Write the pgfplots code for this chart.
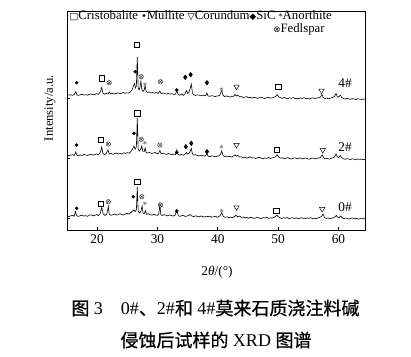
\documentclass[border=0pt]{standalone}
\usepackage{pgfplots}
\pgfplotsset{compat=1.18}
\usepackage{pgfplotstable}
\usetikzlibrary{plotmarks}
\usepackage{fontspec}
\setmainfont{Liberation Serif}
\newfontfamily\cjk{Noto Sans CJK SC}[FakeBold=0.6]
\newfontfamily\sym{DejaVu Sans}

\pgfplotstableread{
x y
15.0 2.3
15.3 1.5
15.6 2.0
15.9 2.7
16.2 1.8
16.4 6.5
16.6 2.2
16.9 1.6
17.2 2.4
17.5 2.9
17.8 1.9
18.1 2.3
18.4 1.7
18.7 2.8
19.0 3.2
19.3 2.2
19.6 2.6
19.9 3.5
20.2 2.5
20.5 4.5
20.75 10.5
21.0 4.0
21.3 2.6
21.6 3.9
21.85 11.5
22.0 3.8
22.3 2.7
22.6 3.3
22.9 4.0
23.2 2.9
23.5 3.4
23.8 4.3
24.1 3.5
24.4 3.0
24.7 4.1
25.0 4.6
25.3 3.9
25.5 5.0
25.8 6.8
26.1 8.0
26.3 6.5
26.5 8.0
26.65 31.0
26.8 7.0
27.0 5.0
27.2 6.0
27.45 12.0
27.6 5.0
27.8 4.2
28.0 7.5
28.2 3.6
28.5 4.4
28.8 3.3
29.1 2.9
29.4 3.8
29.7 3.0
30.0 2.6
30.2 3.5
30.4 13.0
30.55 3.5
30.8 2.5
31.1 3.3
31.4 2.8
31.7 2.1
32.0 3.0
32.3 2.5
32.6 1.9
32.9 2.8
33.2 7.5
33.45 2.4
33.7 1.6
34.0 2.3
34.3 2.7
34.6 1.5
34.9 2.0
35.2 2.6
35.4 3.5
35.7 2.0
36.0 1.4
36.3 2.2
36.6 1.7
36.9 1.1
37.2 2.0
37.5 1.5
37.8 0.9
38.1 1.8
38.4 1.3
38.7 1.9
39.0 0.8
39.3 1.2
39.6 1.8
39.9 0.7
40.15 1.4
40.4 2.5
40.65 5.5
40.9 1.8
41.2 0.6
41.5 1.2
41.8 0.3
42.1 0.9
42.4 0.2
42.7 1.1
42.85 1.8
43.0 2.8
43.3 1.2
43.6 2.0
43.9 0.6
44.2 1.1
44.5 0.2
44.8 0.5
45.1 -0.3
45.4 0.9
45.7 0.3
46.0 -0.4
46.3 0.1
46.6 0.7
46.9 -0.2
47.2 -0.6
47.5 0.4
47.8 0.0
48.1 0.8
48.4 -0.3
48.7 0.2
49.0 -0.1
49.3 0.6
49.55 1.4
49.8 2.8
50.05 1.0
50.3 0.1
50.6 -0.6
50.9 0.3
51.2 -0.2
51.5 0.5
51.8 -0.8
52.1 -0.1
52.4 0.3
52.7 -0.5
53.0 0.2
53.3 -0.9
53.6 -0.2
53.9 0.4
54.2 -0.4
54.5 -0.9
54.8 0.1
55.1 -0.3
55.4 0.3
55.7 -0.7
56.0 -0.2
56.3 -0.8
56.6 0.2
56.9 0.6
57.2 1.5
57.45 4.0
57.7 0.5
58.0 -0.6
58.3 0.1
58.6 -0.9
58.9 -0.2
59.2 0.4
59.45 1.2
59.65 2.5
59.85 0.9
60.1 0.3
60.35 2.0
60.6 0.2
60.9 -0.7
61.2 0.0
61.5 -0.4
61.8 -1.1
62.1 -0.3
62.4 0.1
62.7 -0.9
63.0 -0.4
63.3 -1.2
63.6 -0.5
63.9 -0.1
64.2 -0.9
64.4 -0.6
}\sampleA

\pgfplotstableread{
x y
15.0 3.0
15.3 2.4
15.6 2.8
15.9 3.4
16.2 2.5
16.45 6.0
16.65 2.7
16.9 2.3
17.2 3.1
17.5 2.6
17.8 3.5
18.1 3.0
18.4 2.5
18.7 3.3
19.0 3.8
19.3 2.9
19.6 3.4
19.9 4.1
20.2 3.2
20.55 6.0
20.75 11.0
20.95 4.6
21.2 3.3
21.5 4.6
21.8 8.0
22.0 4.0
22.3 4.6
22.6 3.7
22.9 4.3
23.2 5.0
23.5 4.0
23.8 4.5
24.1 3.9
24.4 5.2
24.7 4.6
25.0 5.4
25.3 4.8
25.6 6.5
25.9 9.5
26.1 12.0
26.3 9.0
26.5 11.0
26.65 40.0
26.8 9.0
27.0 7.0
27.2 8.5
27.4 12.0
27.55 7.0
27.8 6.5
27.95 10.0
28.1 6.0
28.4 4.9
28.7 5.6
29.0 4.5
29.3 4.9
29.6 5.6
29.9 4.3
30.2 4.8
30.4 7.5
30.6 4.2
30.9 4.8
31.2 4.1
31.5 3.6
31.8 4.5
32.1 3.8
32.4 3.3
32.7 4.1
33.0 3.4
33.2 8.0
33.4 3.6
33.7 2.9
34.0 3.5
34.3 2.8
34.6 3.8
34.8 5.5
35.0 3.8
35.2 4.6
35.4 6.5
35.6 9.5
35.8 4.0
36.0 2.8
36.3 3.3
36.6 2.5
36.9 2.1
37.2 2.9
37.5 2.3
37.8 1.8
38.0 2.5
38.2 4.0
38.4 1.8
38.7 1.4
39.0 2.2
39.3 1.7
39.6 1.2
39.9 2.0
40.2 1.9
40.45 4.0
40.65 7.0
40.85 2.7
41.1 1.5
41.4 1.9
41.7 1.1
42.0 1.6
42.3 0.9
42.6 2.0
42.85 3.2
43.05 1.8
43.3 2.8
43.6 1.0
43.9 1.2
44.2 0.3
44.5 0.8
44.8 -0.2
45.1 0.4
45.4 1.0
45.7 -0.1
46.0 0.2
46.3 -0.6
46.6 0.3
46.9 0.7
47.2 -0.2
47.5 -0.7
47.8 0.1
48.1 -0.3
48.4 0.5
48.7 -0.4
49.0 0.0
49.3 0.6
49.6 1.3
49.85 3.2
50.1 0.9
50.4 -0.2
50.7 0.3
51.0 -0.8
51.3 -0.2
51.6 0.4
51.9 -0.5
52.2 -1.0
52.5 -0.1
52.8 0.2
53.1 -0.7
53.4 -0.3
53.7 0.1
54.0 -1.0
54.3 -0.4
54.6 0.0
54.9 -0.8
55.2 -1.2
55.5 -0.3
55.8 0.0
56.1 -0.9
56.4 -0.4
56.7 -0.1
57.0 0.5
57.3 3.2
57.55 0.2
57.8 -0.9
58.1 -0.3
58.4 -1.1
58.7 -0.5
59.0 0.0
59.3 0.7
59.6 4.0
59.8 1.2
60.0 0.5
60.3 2.4
60.55 0.2
60.8 -0.7
61.1 -1.3
61.4 -0.6
61.7 -1.0
62.0 -1.6
62.3 -0.8
62.6 -1.2
62.9 -1.8
63.2 -0.9
63.5 -1.4
63.8 -1.1
64.1 -1.7
64.4 -1.3
}\sampleB

\pgfplotstableread{
x y
15.0 3.5
15.3 2.9
15.6 3.3
15.9 2.6
16.2 3.6
16.45 6.5
16.65 3.0
16.9 2.7
17.2 3.2
17.5 3.8
17.8 2.9
18.1 3.4
18.4 2.8
18.7 3.7
19.0 4.1
19.3 3.2
19.6 3.6
19.9 4.4
20.2 3.6
20.55 6.5
20.75 10.5
20.95 5.0
21.2 3.8
21.5 4.6
21.8 4.0
22.0 6.0
22.2 4.2
22.5 4.8
22.8 4.0
23.1 4.5
23.4 5.2
23.7 4.3
24.0 4.7
24.3 5.5
24.6 4.6
24.9 5.2
25.2 5.0
25.5 6.0
25.8 8.5
26.0 12.0
26.2 14.5
26.35 10.0
26.5 12.0
26.65 41.0
26.8 10.0
26.95 8.0
27.1 11.0
27.25 17.0
27.4 9.0
27.6 6.5
27.8 8.0
27.95 12.5
28.1 7.0
28.3 5.5
28.6 6.0
28.9 5.1
29.2 5.5
29.5 4.7
29.8 5.6
30.1 4.5
30.4 7.0
30.6 4.4
30.9 5.0
31.2 4.3
31.5 4.0
31.8 4.7
32.1 3.8
32.4 4.4
32.7 3.5
33.0 3.9
33.2 8.0
33.4 3.8
33.7 2.7
34.0 4.0
34.3 2.6
34.6 4.5
34.8 7.5
35.0 4.5
35.2 5.5
35.4 9.0
35.6 14.0
35.8 5.0
36.0 3.1
36.3 2.6
36.6 3.2
36.9 2.8
37.2 2.2
37.5 2.9
37.8 2.5
38.0 2.3
38.2 5.0
38.4 2.0
38.7 1.6
39.0 2.4
39.3 1.9
39.6 1.4
39.9 2.2
40.2 2.0
40.45 4.5
40.65 8.0
40.85 3.0
41.1 1.4
41.4 2.1
41.7 1.5
42.0 1.0
42.3 1.8
42.6 1.6
42.85 3.5
43.05 2.0
43.3 3.0
43.6 1.2
43.9 1.5
44.2 0.5
44.5 0.9
44.8 1.4
45.1 0.2
45.4 0.6
45.7 -0.1
46.0 0.8
46.3 0.3
46.6 -0.4
46.9 0.4
47.2 0.9
47.5 0.0
47.8 -0.5
48.1 0.3
48.4 0.7
48.7 -0.2
49.0 0.2
49.3 0.8
49.6 1.5
49.85 3.5
50.1 1.1
50.4 0.3
50.7 -0.4
51.0 0.5
51.3 -0.1
51.6 -0.7
51.9 0.2
52.2 -0.3
52.5 0.4
52.8 -0.6
53.1 -0.1
53.4 -0.9
53.7 0.1
54.0 -0.4
54.3 0.3
54.6 -0.8
54.9 -0.2
55.2 -1.0
55.5 -0.3
55.8 0.2
56.1 -0.6
56.4 -0.1
56.7 0.3
57.0 0.9
57.25 3.5
57.5 0.4
57.8 -0.6
58.1 -0.1
58.4 -0.9
58.7 0.0
59.0 0.4
59.3 1.2
59.6 4.5
59.8 1.5
60.0 0.8
60.3 2.8
60.55 0.5
60.8 -0.4
61.1 -1.1
61.4 -0.3
61.7 -0.8
62.0 -1.4
62.3 -0.6
62.6 -1.0
62.9 -1.6
63.2 -0.7
63.5 -1.2
63.8 -1.5
64.1 -0.9
64.4 -1.4
}\sampleC

\begin{document}
\begin{tikzpicture}
\useasboundingbox (0,0) rectangle (308.25pt,-267.75pt);
\begin{axis}[
  at={(50.25pt,-8.25pt)}, anchor=north west,
  scale only axis, width=223.5pt, height=164.25pt,
  xmin=15, xmax=64.4, ymin=0, ymax=219,
  xtick={20,30,40,50,60},
  ytick={12,72,132}, yticklabels={},
  xtick pos=bottom, ytick pos=left,
  tick align=inside, major tick length=2.5pt,
  axis line style={line width=0.6pt},
  tick style={line width=0.5pt, black},
  ticklabel style={font=\fontsize{10}{12}\selectfont},
  /pgf/number format/assume math mode=true,
  clip=false,
]
\addplot[black, line width=0.45pt] table[x=x, y expr=\thisrow{y}+12] {\sampleA};
\addplot[black, line width=0.45pt] table[x=x, y expr=\thisrow{y}+72] {\sampleB};
\addplot[black, line width=0.45pt] table[x=x, y expr=\thisrow{y}+132] {\sampleC};
% phase markers
\addplot[only marks, mark=square, mark size=2pt, black, line width=0.4pt] coordinates {
(20.6,26) (26.65,48.3) (49.7,19.3) (20.6,90) (26.65,116.7) (49.8,80) (20.75,151.7) (26.6,185) (50,143.3)};
\addplot[only marks, mark=*, mark size=1.1pt, black] coordinates {
(16.6,21.7) (26.0,33.3) (33.2,19) (16.6,85) (26.1,96.7) (33.2,77.7) (16.6,147.3) (26.3,158.3) (33.2,140)};
\addplot[only marks, mark=triangle, mark size=2.3pt, black, line width=0.35pt, mark options={rotate=180}] coordinates {
(43.1,22.7) (57.3,21) (43.1,85) (57.4,80) (43.1,143.3) (57.2,139.3)};
\addplot[only marks, mark=diamond*, mark size=1.7pt, black] coordinates {
(34.7,83.3) (35.6,86.7) (38.2,78.3) (34.6,152.7) (35.5,155.3) (38.2,147.3)};
\addplot[only marks, mark=asterisk, mark size=1.5pt, black!55, line width=0.35pt] coordinates {
(27.9,26.7) (40.65,19.3) (27.9,87.3) (40.6,83.3) (27.9,145.7) (40.6,140.7)};
\addplot[only marks, mark=otimes, mark size=1.7pt, black!75, line width=0.35pt] coordinates {
(21.85,28.3) (27.4,33.3) (30.5,25) (21.85,86) (27.3,90.7) (30.4,85) (22.0,147.3) (27.3,153.3) (30.5,148.3)};
\node[font=\fontsize{10}{12}\selectfont] at (axis cs:61.1,146.7) {4\#};
\node[font=\fontsize{10}{12}\selectfont] at (axis cs:61.1,83.3) {2\#};
\node[font=\fontsize{10}{12}\selectfont] at (axis cs:61.1,23.3) {0\#};
\end{axis}
\node[anchor=west, inner sep=0pt, font=\fontsize{9.6}{11}\selectfont] at (52pt,-12pt)
  {{\sym\fontsize{7}{8}\selectfont □}Cristobalite {\sym\fontsize{7}{8}\selectfont •}Mullite {\sym\fontsize{7}{8}\selectfont ▽}Corundum{\sym\fontsize{6.5}{8}\selectfont ◆}SiC {\sym\fontsize{6}{8}\selectfont *}Anorthite};
\node[anchor=west, inner sep=0pt, font=\fontsize{9.6}{11}\selectfont] at (204.75pt,-21.75pt)
  {{\sym\fontsize{6.5}{8}\selectfont ⊗}Fedlspar};
\node[rotate=90, font=\fontsize{9.5}{11}\selectfont] at (37.5pt,-81pt) {Intensity/a.u.};
\node[font=\fontsize{10}{12}\selectfont] at (162.75pt,-204pt) {2\textit{θ}/(°)};
\node[font=\fontsize{13.5}{15}\selectfont] at (161.6pt,-231pt) {{\cjk 图}~3\quad 0\#{\cjk 、}2\#{\cjk 和}~4\#{\cjk 莫来石质浇注料碱}};
\node[font=\fontsize{13.5}{15}\selectfont] at (162pt,-255pt) {{\cjk 侵蚀后试样的}~XRD~{\cjk 图谱}};
\end{tikzpicture}
\end{document}
